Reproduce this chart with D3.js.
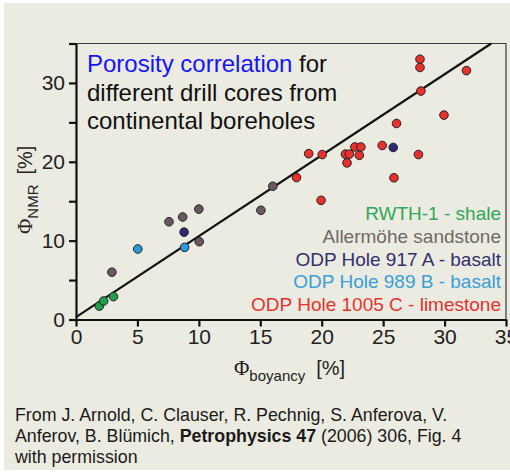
<!DOCTYPE html>
<html>
<head>
<meta charset="utf-8">
<script src="https://cdn.jsdelivr.net/npm/d3@7"></script>
<style>
  body { margin: 0; background: #ffffff; }
  svg { display: block; font-family: "Liberation Sans", Arial, sans-serif; }
</style>
</head>
<body>
<svg id="chart" width="510" height="473"></svg>
<script>
// data: [phi_boyancy, phi_NMR] per sample group
const shale = [[1.9, 1.7], [2.25, 2.35], [3.05, 2.9]];
const sandstone = [[2.92, 6.0], [7.57, 12.4], [8.68, 13.0], [10.0, 14.0], [10.03, 9.87], [15.05, 13.85], [16.02, 16.9]];
const hole917 = [[8.8, 11.08], [25.82, 21.82]];
const hole989 = [[5.03, 8.94], [8.84, 9.15]];
const hole1005 = [
  [17.95, 18.0], [18.94, 21.03], [20.04, 20.92], [19.95, 15.11], [21.93, 20.97],
  [22.25, 20.97], [22.06, 19.86], [22.7, 21.88], [23.19, 21.88], [23.06, 20.82],
  [24.92, 22.07], [26.09, 24.86], [25.88, 17.97], [27.87, 20.92], [28.0, 33.0],
  [28.0, 31.96], [28.07, 28.97], [29.95, 25.92], [31.78, 31.56]
];
const fitLine = [[0, 0.3], [33.8, 35]];

const groups = [
  { name: "RWTH-1 - shale", pts: shale, fill: "#1f9e48", text: "#2ea85a" },
  { name: "Allermöhe sandstone", pts: sandstone, fill: "#6b5762", text: "#6f6964" },
  { name: "ODP Hole 917 A - basalt", pts: hole917, fill: "#2c2c72", text: "#30306e" },
  { name: "ODP Hole 989 B - basalt", pts: hole989, fill: "#2a9ad8", text: "#3a9ed8" },
  { name: "ODP Hole 1005 C - limestone", pts: hole1005, fill: "#e8302c", text: "#e8302c" }
];

const xTicks = [0, 5, 10, 15, 20, 25, 30, 35];
const yTicks = [0, 5, 10, 15, 20, 25, 30, 35];
const yLabelled = [0, 10, 20, 30];

const svg = d3.select("#chart");

// beige panel
svg.append("rect")
  .attr("x", 4).attr("y", 3)
  .attr("width", 506).attr("height", 467)
  .attr("fill", "#ecebe1");

const x = d3.scaleLinear().domain([0, 35]).range([76, 506]);
const y = d3.scaleLinear().domain([0, 35]).range([319.5, 43.5]);

// thin frame top + right
svg.append("path")
  .attr("d", `M${x(0)},${y(35)}H${x(35)}V${y(0)}`)
  .attr("fill", "none")
  .attr("stroke", "#3a3a3a")
  .attr("stroke-width", 1.2);

// axes
const xAxis = svg.append("g")
  .attr("transform", `translate(0,${y(0)})`)
  .call(d3.axisBottom(x).tickValues(xTicks).tickSize(7).tickPadding(3).tickSizeOuter(0));

const yAxis = svg.append("g")
  .attr("transform", `translate(${x(0)},0)`)
  .call(d3.axisLeft(y).tickValues(yTicks).tickSize(7).tickPadding(4).tickSizeOuter(0)
    .tickFormat(d => yLabelled.includes(d) ? d : ""));

[xAxis, yAxis].forEach(g => {
  g.select(".domain").attr("stroke", "#111").attr("stroke-width", 2.2);
  g.selectAll(".tick line").attr("stroke", "#111").attr("stroke-width", 2.2);
  g.selectAll(".tick text")
    .attr("fill", "#222")
    .style("font-size", "21px")
    .style("font-family", "'Liberation Sans', Arial, sans-serif");
});

// fit line
svg.append("path")
  .datum(fitLine)
  .attr("d", d3.line().x(d => x(d[0])).y(d => y(d[1])))
  .attr("fill", "none")
  .attr("stroke", "#111")
  .attr("stroke-width", 2.2);

// points
groups.forEach(gr => {
  svg.append("g")
    .selectAll("circle")
    .data(gr.pts)
    .join("circle")
    .attr("cx", d => x(d[0]))
    .attr("cy", d => y(d[1]))
    .attr("r", 4.3)
    .attr("fill", gr.fill)
    .attr("stroke", "#222")
    .attr("stroke-width", 1);
});

// title inside plot
const title = svg.append("text")
  .attr("x", 87)
  .attr("y", 72)
  .style("font-size", "24px")
  .attr("fill", "#111");
title.append("tspan").attr("fill", "#1414ff").text("Porosity correlation");
title.append("tspan").text(" for");
svg.append("text").attr("x", 87).attr("y", 100.5).style("font-size", "24px").attr("fill", "#111")
  .text("different drill cores from");
svg.append("text").attr("x", 87).attr("y", 129).style("font-size", "24px").attr("fill", "#111")
  .text("continental boreholes");

// legend
svg.append("g")
  .selectAll("text")
  .data(groups)
  .join("text")
  .attr("x", 501)
  .attr("y", (d, i) => 220 + i * 22.8)
  .attr("text-anchor", "end")
  .style("font-size", "19px")
  .attr("fill", d => d.text)
  .text(d => d.name);

// x axis label
const xl = svg.append("text").attr("x", 234).attr("y", 375).attr("fill", "#222");
xl.append("tspan").style("font-family", "'Liberation Serif', serif").style("font-size", "21px").text("Φ");
xl.append("tspan").attr("dy", 6).style("font-size", "15px").text("boyancy");
xl.append("tspan").attr("dy", -6).attr("dx", 11).style("font-size", "20px").text("[%]");

// y axis label
const yl = svg.append("text")
  .attr("transform", "translate(32,234) rotate(-90)")
  .attr("fill", "#222");
yl.append("tspan").style("font-family", "'Liberation Serif', serif").style("font-size", "21px").text("Φ");
yl.append("tspan").attr("dy", 6).style("font-size", "15px").text("NMR");
yl.append("tspan").attr("dy", -6).attr("dx", 10).style("font-size", "20px").text("[%]");

// citation
const cite = ["From J. Arnold, C. Clauser, R. Pechnig, S. Anferova, V.", null, "with permission"];
svg.append("text").attr("x", 15).attr("y", 420.5).style("font-size", "17.8px").attr("fill", "#1a1a1a").text(cite[0]);
const c2 = svg.append("text").attr("x", 15).attr("y", 441.5).style("font-size", "17.8px").attr("fill", "#1a1a1a");
c2.append("tspan").text("Anferov, B. Blümich, ");
c2.append("tspan").style("font-weight", "bold").text("Petrophysics 47");
c2.append("tspan").text(" (2006) 306, Fig. 4");
svg.append("text").attr("x", 15).attr("y", 462.5).style("font-size", "17.8px").attr("fill", "#1a1a1a").text(cite[2]);
</script>
</body>
</html>
